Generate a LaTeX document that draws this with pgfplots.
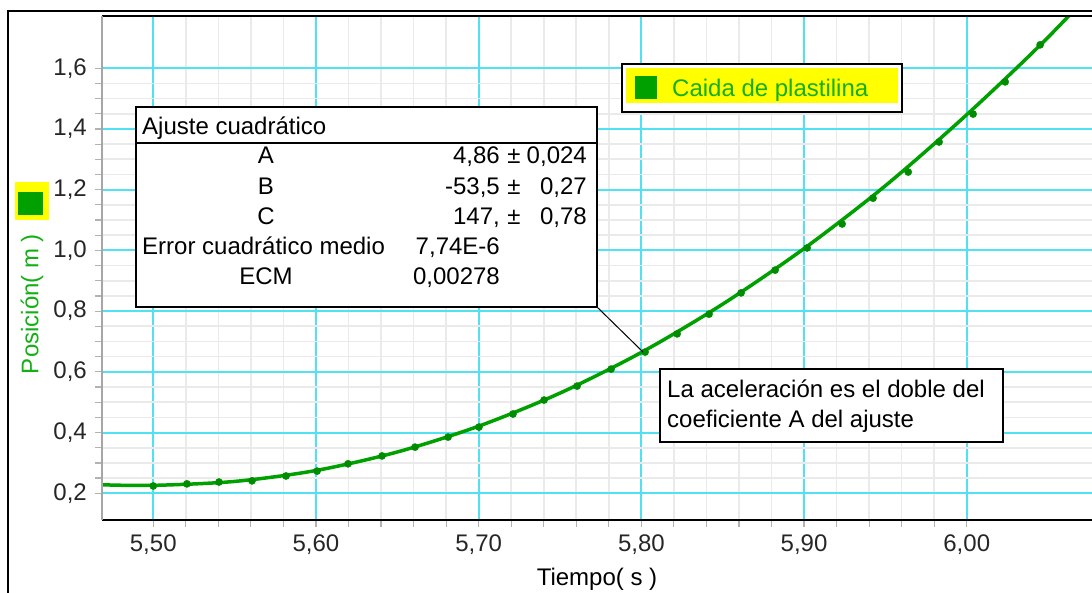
\documentclass[border=0pt]{standalone}
\usepackage{fontspec}
\setmainfont{Liberation Sans}
\usepackage{pgfplots}
\pgfplotsset{compat=1.18}
\definecolor{plgreen}{RGB}{0,160,0}
\definecolor{mkgreen}{RGB}{0,140,0}
\definecolor{txtgreen}{RGB}{20,175,20}
\definecolor{gridcyan}{RGB}{80,226,240}
\definecolor{gridgray}{RGB}{234,234,234}
\definecolor{lgdyellow}{RGB}{255,255,0}
\newcommand{\fs}{\fontsize{24}{28}\selectfont}
\begin{document}
\fs
\begin{tikzpicture}
\begin{axis}[
  scale only axis,
  width=998pt, height=504pt,
  xmin=5.4685, xmax=6.0819, ymin=0.112, ymax=1.772,
  xtick={5.5,5.6,5.7,5.8,5.9,6.0},
  ytick={0.2,0.4,0.6,0.8,1.0,1.2,1.4,1.6},
  minor x tick num=4, minor y tick num=3,
  xtick pos=bottom, ytick pos=left,
  grid=both,
  major grid style={gridcyan, line width=2pt},
  minor grid style={gridgray, line width=1.6pt},
  axis line style={draw=none},
  tick align=outside, major tick length=7pt, minor tick length=7pt,
  tick style={black!30, line width=1.2pt},
  x tick label style={/pgf/number format/.cd, fixed, fixed zerofill, precision=2, use comma, assume math mode=true, /tikz/.cd},
  y tick label style={/pgf/number format/.cd, fixed, fixed zerofill, precision=1, use comma, assume math mode=true, /tikz/.cd},
  tick label style={text=black!85, font=\fs},
  clip=true,
]
% fitted curve
\addplot[plgreen, line width=3.5pt, smooth] coordinates {
 (5.4685,0.228) (5.50,0.226) (5.55,0.239) (5.60,0.275) (5.65,0.336)
 (5.70,0.421) (5.75,0.530) (5.80,0.664) (5.85,0.823) (5.90,1.006)
 (5.95,1.213) (6.00,1.447) (6.05,1.702) (6.10,1.985)
};
% measured points
\addplot[only marks, mark=*, mark size=3.6pt, mkgreen] coordinates {
 (5.5000,0.224) (5.5207,0.231) (5.5404,0.237) (5.5607,0.241) (5.5816,0.257)
 (5.6007,0.273) (5.6197,0.297) (5.6406,0.323) (5.6609,0.352) (5.6812,0.385)
 (5.7002,0.418) (5.7211,0.461) (5.7402,0.507) (5.7605,0.553) (5.7814,0.609)
 (5.8023,0.665) (5.8220,0.725) (5.8416,0.790) (5.8613,0.860) (5.8822,0.935)
 (5.9019,1.008) (5.9234,1.087) (5.9424,1.172) (5.9640,1.258) (5.9830,1.357)
 (6.0039,1.449) (6.0236,1.555) (6.0451,1.677)
};
\coordinate (O) at (rel axis cs:0,0);
\end{axis}
\begin{scope}[shift={(O)}, xshift=-102pt, yshift=-73pt, x=1pt, y=1pt]
% axis lines and frame
\draw[black, line width=2pt] (102,73) -- (1100,73);
\draw[black, line width=2.5pt] (102,577) -- (1100,577);
\draw[black!35, line width=1.2pt] (102,73) -- (102,577);
\draw[black, line width=2pt] (8,-5) -- (8,582) -- (1100,582);
% axis titles
\node[anchor=center] at (597,14) {Tiempo( s )};
\node[rotate=90, anchor=center, text=txtgreen] at (32,289) {Posición( m )};
\fill[lgdyellow] (15,373) rectangle (49,411);
\fill[plgreen] (18,378) rectangle (43,401);
% legend
\draw[black, line width=2pt, fill=white] (622,481) rectangle (902,529);
\fill[lgdyellow] (626,490) rectangle (898,525);
\fill[plgreen] (635,494) rectangle (657,517);
\node[anchor=base west, inner sep=0pt, text=txtgreen] at (672,496) {Caida de plastilina};
% fit box
\draw[black, line width=1pt] (597,286) -- (643,241);
\draw[black, line width=2pt, fill=white] (136,286) rectangle (597,486);
\draw[black, line width=1.2pt] (136,450) -- (597,450);
\node[anchor=base west, inner sep=0pt] at (142,458) {Ajuste cuadrático};
\node[anchor=base, inner sep=0pt] at (266,429) {A};
\node[anchor=base, inner sep=0pt] at (266,398) {B};
\node[anchor=base, inner sep=0pt] at (266,368) {C};
\node[anchor=base west, inner sep=0pt] at (142,338) {Error cuadrático medio};
\node[anchor=base, inner sep=0pt] at (266,308) {ECM};
\node[anchor=base east, inner sep=0pt] at (500,429) {4,86};
\node[anchor=base east, inner sep=0pt] at (500,398) {-53,5};
\node[anchor=base east, inner sep=0pt] at (500,368) {147,};
\node[anchor=base east, inner sep=0pt] at (500,338) {7,74E-6};
\node[anchor=base east, inner sep=0pt] at (500,308) {0,00278};
\node[anchor=base, inner sep=0pt] at (514,429) {±};
\node[anchor=base, inner sep=0pt] at (514,398) {±};
\node[anchor=base, inner sep=0pt] at (514,368) {±};
\node[anchor=base east, inner sep=0pt] at (587,429) {0,024};
\node[anchor=base east, inner sep=0pt] at (587,398) {0,27};
\node[anchor=base east, inner sep=0pt] at (587,368) {0,78};
% annotation
\draw[black, line width=2pt, fill=white] (660,151) rectangle (1003,224);
\node[anchor=base west, inner sep=0pt] at (667,195) {La aceleración es el doble del};
\node[anchor=base west, inner sep=0pt] at (667,165) {coeficiente A del ajuste};
% page
\pgfresetboundingbox
\path[use as bounding box] (0,0) rectangle (1092,593);
\end{scope}
\end{tikzpicture}
\end{document}
